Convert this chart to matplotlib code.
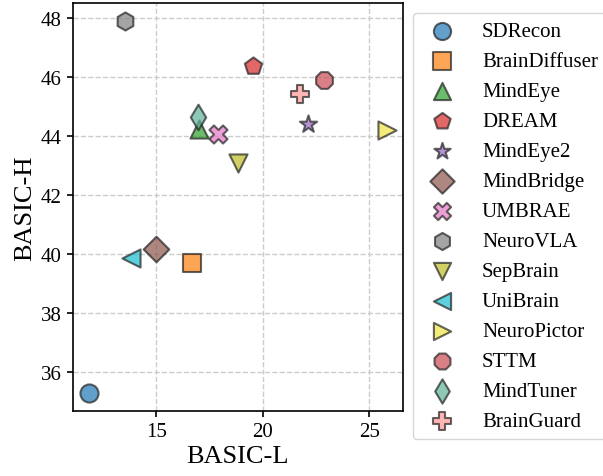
import matplotlib
matplotlib.use("Agg")
import matplotlib.pyplot as plt

plt.rcParams['font.family'] = ['Liberation Serif', 'DejaVu Serif']

methods = ['SDRecon', 'BrainDiffuser', 'MindEye', 'DREAM', 'MindEye2', 'MindBridge',
           'UMBRAE', 'NeuroVLA', 'SepBrain', 'UniBrain', 'NeuroPictor', 'STTM',
           'MindTuner', 'BrainGuard']
basic_l = [11.82, 16.65, 17.0, 19.54, 22.13, 15.0, 17.9, 13.52, 18.84, 13.82, 25.82, 22.88, 16.95, 21.74]
basic_h = [35.31, 39.71, 44.23, 46.38, 44.39, 40.16, 44.06, 47.89, 43.1, 39.88, 44.2, 45.9, 44.63, 45.43]

markers = ['o', 's', '^', 'p', '*', 'D', 'X', 'h', 'v', '<', '>', '8', 'd', 'P']
colors = ['#1f77b4', '#ff7f0e', '#2ca02c', '#d62728', '#9467bd', '#8c564b', '#e377c2',
          '#7f7f7f', '#bcbd22', '#17becf', '#f0e442', '#c94a55', '#5fb39a', '#ff9896']

fig = plt.figure(figsize=(6.03, 4.77), dpi=100)
ax = fig.add_axes([0.121, 0.136, 0.547, 0.856])

for name, x, y, m, c in zip(methods, basic_l, basic_h, markers, colors):
    ax.scatter(x, y, s=170, marker=m, color=c, alpha=0.7, edgecolors='#222222',
               linewidths=1.5, label=name, zorder=3)

ax.set_xlim(11.08, 26.57)
ax.set_ylim(34.68, 48.51)
ax.set_xticks([15, 20, 25])
ax.set_yticks([36, 38, 40, 42, 44, 46, 48])
ax.grid(True, linestyle='--', color='#cccccc', linewidth=1, zorder=0)
ax.set_xlabel('BASIC-L', fontsize=19, labelpad=3)
ax.set_ylabel('BASIC-H', fontsize=19, labelpad=3)
ax.tick_params(labelsize=15, width=1.2, length=4.5)
for sp in ax.spines.values():
    sp.set_linewidth(1.2)

ax.legend(loc='upper left', bbox_to_anchor=(1.0, 1.0), fontsize=15, frameon=True,
          labelspacing=0.5, handletextpad=0.9, borderpad=0.4, markerscale=0.95)

fig.savefig('out.png', dpi=100)
